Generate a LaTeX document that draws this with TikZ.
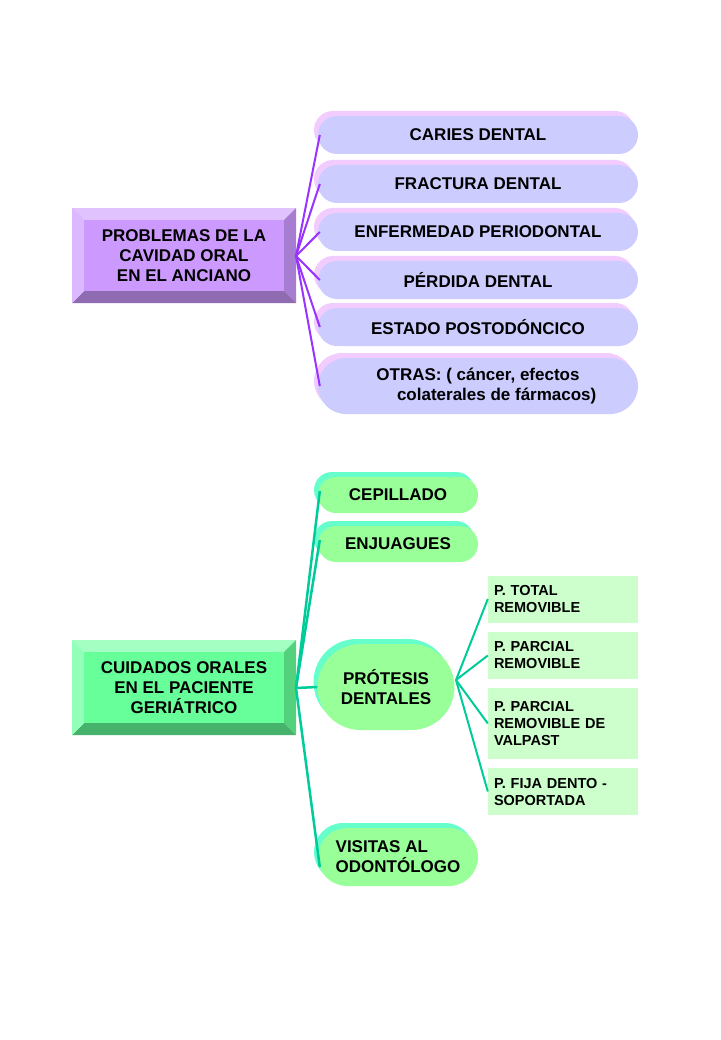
\documentclass[tikz,border=0pt]{standalone}
\usepackage{fontspec}
\setmainfont{Liberation Sans}
\usetikzlibrary{shapes.misc}
\definecolor{lila}{HTML}{CC99FF}
\definecolor{lilaline}{HTML}{9933FF}
\definecolor{lilaell}{HTML}{CCCCFF}
\definecolor{lilashad}{HTML}{F2CCFF}
\definecolor{verde}{HTML}{66FF99}
\definecolor{verdeline}{HTML}{00CC99}
\definecolor{verdeell}{HTML}{99FF99}
\definecolor{verdeshad}{HTML}{66FFCC}
\definecolor{verderect}{HTML}{CCFFCC}
\tikzset{
  txt/.style={font=\bfseries\fontsize{17}{20}\selectfont, align=center, text=black},
  smalltxt/.style={font=\bfseries\fontsize{14.5}{17}\selectfont, text=black},
  topell/.style={rounded rectangle, fill=lilaell, minimum width=320, minimum height=38, inner sep=0pt, txt},
  topshad/.style={rounded rectangle, fill=lilashad, minimum width=320, minimum height=38, inner sep=0pt},
  botell/.style={rounded rectangle, fill=verdeell, inner sep=0pt, txt},
  botshad/.style={rounded rectangle, fill=verdeshad, inner sep=0pt},
  subrect/.style={fill=verderect, minimum width=150, inner sep=0pt, smalltxt, align=left, text width=138},
  topline/.style={draw=lilaline, line width=2pt},
  botline/.style={draw=verdeline, line width=2.5pt},
}
% bevelled box: #1 name, #2 west x, #3 north y, #4 face colour, #5 text
\newcommand\bevelbox[5]{%
  \fill[#4!60!white] (#2,#3) rectangle ++(224,95);
  \fill[#4!55!black!40!#4] (#2+224,#3) -- ++(0,95) -- ++(-12,-12) -- ++(0,-71) -- cycle;
  \fill[#4!70!black] (#2,#3+95) -- ++(224,0) -- ++(-12,-12) -- ++(-200,0) -- cycle;
  \fill[#4!70!white] (#2,#3) -- ++(12,12) -- ++(0,71) -- ++(-12,12) -- cycle;
  \node[fill=#4, minimum width=200, minimum height=71, inner sep=0pt, txt] (#1) at (#2+112,#3+47.5) {#5};
}
\begin{document}
\begin{tikzpicture}[x=1pt, y=-1pt]
\useasboundingbox[fill=white] (0,0) rectangle (720,1040);

% upper tree
\bevelbox{prob}{72}{208}{lila}{PROBLEMAS DE LA\\CAVIDAD ORAL\\EN EL ANCIANO}
\coordinate (pj) at (296,256);
\foreach \n/\y/\t in {caries/135/CARIES DENTAL, fract/184/FRACTURA DENTAL, enfer/232/ENFERMEDAD PERIODONTAL, perd/280/PÉRDIDA DENTAL, estado/327/ESTADO POSTODÓNCICO}{
  \node[topshad] at (474,\y-5) {};
  \node[topell] (\n) at (478,\y) {\t};
  \draw[topline] (pj) -- ([xshift=2pt]\n.west);
}
\node[topshad, minimum height=56] at (474,381) {};
\node[topell, minimum height=56] (otras) at (478,386) {OTRAS: ( cáncer, efectos\\\hspace*{2.2em}colaterales de fármacos)};
\draw[topline] (pj) -- ([xshift=2pt]otras.west);

% lower tree
\bevelbox{cuid}{72}{640}{verde}{CUIDADOS ORALES\\EN EL PACIENTE\\GERIÁTRICO}
\coordinate (cj) at (296,688);
\node[botshad, minimum width=160, minimum height=36] at (394,490) {};
\node[botell, minimum width=160, minimum height=36] (cep) at (398,495) {CEPILLADO};
\node[botshad, minimum width=160, minimum height=36] at (394,539) {};
\node[botell, minimum width=160, minimum height=36] (enj) at (398,544) {ENJUAGUES};
\node[botshad, minimum width=137, minimum height=86] at (382,682) {};
\node[botell, minimum width=137, minimum height=86] (prot) at (386,687) {PRÓTESIS\\DENTALES};
\node[botshad, minimum width=160, minimum height=58] at (394,852) {};
\node[botell, minimum width=160, minimum height=58, align=left] (visit) at (398,857) {VISITAS AL\\ODONTÓLOGO};
\draw[botline] (cj) -- ([xshift=2pt,yshift=4pt]cep.west);
\draw[botline] (cj) -- ([xshift=2pt,yshift=4pt]enj.west);
\draw[botline] (cj) -- (prot.west);
\draw[botline] (cj) -- ([xshift=2pt,yshift=-10pt]visit.west);

\node[subrect, minimum height=47] (ptot) at (563,599) {P. TOTAL\\REMOVIBLE};
\node[subrect, minimum height=47] (ppar) at (563,655.5) {P. PARCIAL\\REMOVIBLE};
\node[subrect, minimum height=71] (pval) at (563,723.5) {P. PARCIAL\\REMOVIBLE DE\\VALPAST};
\node[subrect, minimum height=47] (pfija) at (563,791.5) {P. FIJA DENTO -\\SOPORTADA};
\coordinate (pr) at (456,680);
\foreach \n in {ptot, ppar, pval, pfija}
  \draw[verdeline, line width=2pt] (pr) -- (\n.west);
\end{tikzpicture}
\end{document}
